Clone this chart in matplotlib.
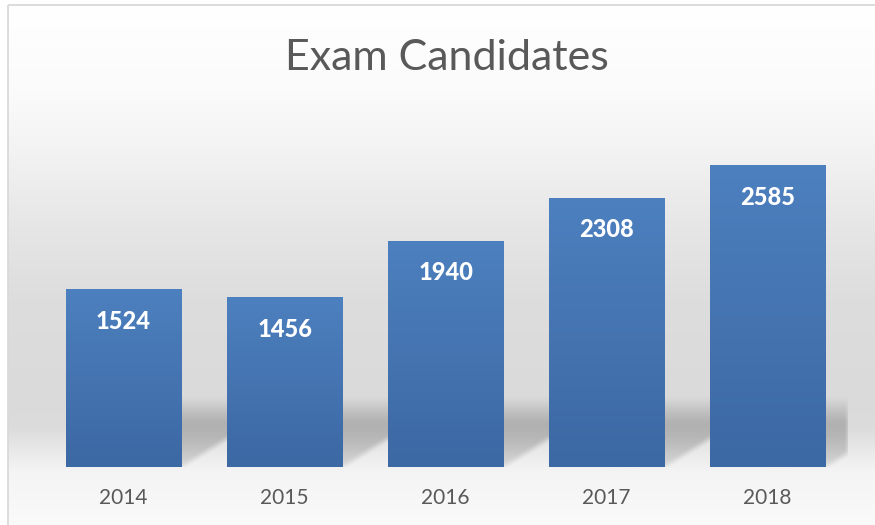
import numpy as np
import matplotlib
matplotlib.use('Agg')
import matplotlib.pyplot as plt
from matplotlib.colors import LinearSegmentedColormap

# data
years = ['2014', '2015', '2016', '2017', '2018']
candidates = [1524, 1456, 1940, 2308, 2585]
title = 'Exam Candidates'
y_max = 3000

# layout in pixels (figure is 875 x 525)
W, H = 875, 525
PLOT_L, PLOT_R = 43, 848
BASE_Y, TOP_Y = 467, 117
BAR_W = 0.72
SHEAR = 1.6          # shadow skew, px right per px up
SHADOW_H = 90        # px
TEXT_GREY = '#595959'

plt.rcParams['font.family'] = ['Lato', 'DejaVu Sans']

fig = plt.figure(figsize=(W / 100, H / 100), dpi=100)
fig.patch.set_facecolor('white')

# background panel with vertical grey gradient
bg = fig.add_axes([0, 0, 1, 1])
bg.set_xlim(0, W)
bg.set_ylim(H, 0)
bg.set_axis_off()
stops_y = [5, 90, 150, 220, 300, 400, 428, 452, 472, 525]
stops_g = [255, 251, 243, 231, 221, 218, 220, 234, 244, 250]
rows = np.interp(np.arange(5, H), stops_y, stops_g) / 255.0
grad = np.repeat(rows[:, None], 3, axis=1)[:, None, :]
bg.imshow(grad, extent=[8, W, H, 5], aspect='auto', interpolation='bilinear')
bg.plot([8, W], [5, 5], color='#d9d9d9', lw=1.3, solid_capstyle='butt')
bg.plot([8, 8], [5, H], color='#d9d9d9', lw=1.3, solid_capstyle='butt')

# plot area
ax = fig.add_axes([PLOT_L / W, (H - BASE_Y) / H,
                   (PLOT_R - PLOT_L) / W, (BASE_Y - TOP_Y) / H])
ax.set_facecolor('none')
ax.set_xlim(-0.5, len(years) - 0.5)
ax.set_ylim(0, y_max)
for s in ax.spines.values():
    s.set_visible(False)
ax.set_yticks([])
x = np.arange(len(years))
ax.set_xticks(x)
ax.set_xticklabels(years)
ax.tick_params(axis='x', length=0, pad=15, labelsize=15, labelcolor=TEXT_GREY)

# perspective shadow behind the bars, soft edged
px_w = PLOT_R - PLOT_L
slot = px_w / len(years)
xs = np.arange(px_w) + 0.5
ys = np.arange(SHADOW_H) + 0.5
X, Y = np.meshgrid(xs, ys)
mask = np.zeros_like(X)
for i in range(len(years)):
    a = (i + 0.5 - BAR_W / 2) * slot
    b = (i + 0.5 + BAR_W / 2) * slot
    mask[(X >= a + SHEAR * Y) & (X <= b + SHEAR * Y)] = 1.0
profile = np.interp(ys, [0, 18, 30, 46, 70], [0.55, 0.85, 1.0, 1.0, 0.0])
dark = mask * profile[:, None]
k = np.ones(7) / 7
dark = np.apply_along_axis(lambda r: np.convolve(r, k, mode='same'), 1, dark)
dark = np.apply_along_axis(lambda c: np.convolve(c, k, mode='same'), 0, dark)
shadow = np.zeros((SHADOW_H, px_w, 4))
shadow[..., 3] = dark * 0.19
ypx = y_max / (BASE_Y - TOP_Y)
ax.imshow(shadow, extent=[-0.5, len(years) - 0.5, 0, SHADOW_H * ypx],
          origin='lower', aspect='auto', zorder=1, interpolation='bilinear')

# bars with vertical gradient fill
bar_cmap = LinearSegmentedColormap.from_list('bar', ['#3c68a3', '#4d80bf'])
bars = ax.bar(x, candidates, width=BAR_W, color='none', edgecolor='none', zorder=2)
g = np.linspace(0, 1, 256)[:, None]
for rect, v in zip(bars, candidates):
    x0 = rect.get_x()
    im = ax.imshow(g, cmap=bar_cmap, extent=[x0, x0 + rect.get_width(), 0, v],
                   origin='lower', aspect='auto', zorder=2)
    im.set_clip_path(rect)
    ax.annotate(str(v), (rect.get_x() + rect.get_width() / 2, v),
                xytext=(0, -23), textcoords='offset points',
                ha='center', va='center', color='white',
                fontsize=17, fontweight='black', zorder=3)
ax.set_xlim(-0.5, len(years) - 0.5)
ax.set_ylim(0, y_max)

# title
fig.text(446.5 / W, 1 - 58 / H, title, ha='center', va='center',
         fontsize=31, color=TEXT_GREY)

fig.savefig('out.png', dpi=100)
